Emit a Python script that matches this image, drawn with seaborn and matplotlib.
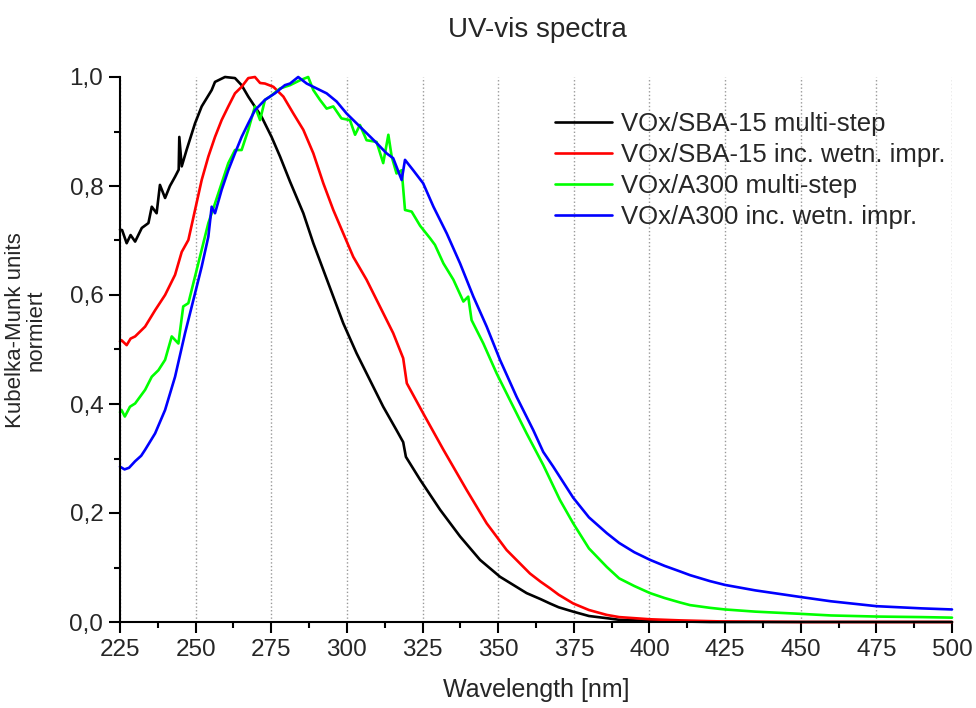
import numpy as np
import pandas as pd
import matplotlib
matplotlib.use("Agg")
import matplotlib.pyplot as plt
from matplotlib.ticker import MultipleLocator, FuncFormatter
import seaborn as sns

# ---------------- data ----------------
series_names = ["VOx/SBA-15 multi-step", "VOx/SBA-15 inc. wetn. impr.",
                "VOx/A300 multi-step", "VOx/A300 inc. wetn. impr."]
series_colors = ["#000000", "#FF0000", "#00FF00", "#0000FF"]

wl_black = [225, 225.7, 227.2, 228.5, 230, 232.2, 234.4, 235.5, 237.1, 238.2, 239.9, 241.5,
            243.2, 244.4, 244.6, 245.4, 247.0, 249.8, 252, 255.3, 256.4, 259.7, 263, 265.2,
            267.4, 271.8, 275.1, 277.9, 281.2, 285.6, 288.9, 292.2, 295.5, 298.8, 303.2,
            307.6, 312.0, 316.4, 317.8, 318.6, 319.5, 324.2, 330.8, 337.4, 344.0, 350.6,
            359.4, 364.0, 367.1, 370, 374.8, 380, 385.9, 390, 400, 420, 450, 500]
val_black = [0.72, 0.719, 0.695, 0.71, 0.698, 0.723, 0.732, 0.762, 0.750, 0.802, 0.778, 0.80,
             0.817, 0.83, 0.890, 0.836, 0.866, 0.915, 0.946, 0.976, 0.991, 1.0, 0.998, 0.985,
             0.964, 0.927, 0.890, 0.854, 0.808, 0.750, 0.695, 0.646, 0.597, 0.548, 0.493,
             0.444, 0.395, 0.352, 0.338, 0.330, 0.303, 0.261, 0.206, 0.157, 0.114, 0.083,
             0.053, 0.042, 0.034, 0.027, 0.019, 0.011, 0.007, 0.004, 0.002, 0.0, 0.0, 0.0]

wl_red = [225, 225.5, 227.2, 228.5, 230, 233.3, 236.6, 239.9, 243.2, 245.4, 247.6, 249.8,
          252, 254.2, 256.4, 258.6, 260.8, 263, 265.2, 267.4, 269.6, 271.3, 272.9, 275.7,
          279, 282.3, 285.6, 288.9, 292.2, 295.5, 298.8, 302.1, 306.5, 310.9, 315.3, 318.6,
          319.8, 325.2, 331.9, 339.6, 346.2, 352.8, 360.5, 364.0, 367.1, 370, 374.8, 380,
          385.9, 390, 400.2, 410, 424, 450, 500]
val_red = [0.515, 0.517, 0.508, 0.52, 0.524, 0.542, 0.572, 0.600, 0.637, 0.679, 0.701, 0.756,
           0.811, 0.854, 0.890, 0.921, 0.946, 0.970, 0.982, 0.998, 1.0, 0.989, 0.988, 0.982,
           0.964, 0.933, 0.903, 0.860, 0.805, 0.756, 0.713, 0.670, 0.628, 0.579, 0.530, 0.484,
           0.438, 0.383, 0.316, 0.242, 0.181, 0.132, 0.089, 0.074, 0.062, 0.050, 0.034, 0.022,
           0.013, 0.009, 0.005, 0.003, 0.001, 0.0, 0.0]

wl_green = [225, 225.5, 226.6, 228.3, 230, 233.3, 235.5, 237.7, 239.9, 242.1, 244.3, 245.9,
            247.6, 249.8, 252, 254.2, 256.4, 258.6, 260.8, 263, 265.2, 267.4, 269.6, 271.3,
            272.9, 274.6, 277.9, 281.2, 284.5, 287.2, 288.9, 291.1, 293.3, 295.5, 298.2, 301,
            302.7, 304.3, 306.5, 309.8, 312.0, 313.7, 314.8, 316.4, 318.1, 319.2, 321.4, 324.2,
            327.5, 329.1, 331.9, 335.2, 338.5, 340.1, 341.2, 345.1, 349.5, 353.9, 359.4, 364.9,
            370.4, 374.8, 380, 385.9, 390, 395, 400.2, 405, 410, 413.4, 420, 425, 435, 449.8,
            460, 475.1, 490, 500]
val_green = [0.385, 0.389, 0.377, 0.395, 0.401, 0.426, 0.450, 0.462, 0.481, 0.524, 0.511, 0.579,
             0.585, 0.634, 0.683, 0.732, 0.768, 0.805, 0.842, 0.866, 0.866, 0.903, 0.946, 0.921,
             0.958, 0.964, 0.979, 0.985, 0.994, 1.0, 0.976, 0.958, 0.942, 0.946, 0.924, 0.921,
             0.894, 0.912, 0.884, 0.881, 0.842, 0.894, 0.854, 0.823, 0.829, 0.756, 0.753, 0.727,
             0.704, 0.692, 0.658, 0.628, 0.588, 0.597, 0.554, 0.511, 0.456, 0.407, 0.346, 0.288,
             0.224, 0.181, 0.135, 0.101, 0.080, 0.066, 0.053, 0.044, 0.036, 0.031, 0.026, 0.023,
             0.019, 0.015, 0.012, 0.010, 0.009, 0.008]

wl_blue = [225, 226.5, 228, 230, 232, 233.3, 236.6, 239.9, 243.2, 246.5, 249.8, 252, 254.2,
           255.3, 256.4, 258.6, 260.8, 263, 265.2, 267.4, 269.6, 272.9, 276.2, 279.5, 281.2,
           283.9, 286.7, 290, 293.3, 296.6, 299.9, 303.2, 306.5, 309.8, 313.1, 315.3, 318.1,
           319.2, 321.9, 325.2, 328.6, 333.0, 337.4, 341.8, 346.2, 350.6, 356.1, 361.6, 364.9,
           368.2, 374.8, 380, 385.9, 390, 395, 400.2, 405, 410, 413.4, 420, 425, 435, 449.8,
           460, 475.1, 490, 500]
val_blue = [0.285, 0.280, 0.283, 0.295, 0.305, 0.316, 0.346, 0.389, 0.450, 0.530, 0.603, 0.652,
            0.707, 0.762, 0.750, 0.793, 0.829, 0.860, 0.890, 0.915, 0.939, 0.958, 0.970, 0.985,
            0.988, 1.0, 0.988, 0.979, 0.970, 0.955, 0.933, 0.915, 0.897, 0.879, 0.860, 0.851,
            0.811, 0.848, 0.829, 0.805, 0.762, 0.713, 0.658, 0.597, 0.542, 0.481, 0.413, 0.352,
            0.312, 0.285, 0.228, 0.192, 0.163, 0.145, 0.128, 0.114, 0.103, 0.093, 0.086, 0.075,
            0.068, 0.058, 0.046, 0.038, 0.029, 0.025, 0.023]

x_ticks = [225, 250, 275, 300, 325, 350, 375, 400, 425, 450, 475, 500]
y_ticks = [0.0, 0.2, 0.4, 0.6, 0.8, 1.0]

# ---------------- build long table ----------------
frames = []
for name, wl, val in zip(series_names,
                         [wl_black, wl_red, wl_green, wl_blue],
                         [val_black, val_red, val_green, val_blue]):
    frames.append(pd.DataFrame({"wl": wl, "val": val, "series": name}))
df = pd.concat(frames, ignore_index=True)

# ---------------- style ----------------
sns.set_style("ticks")
plt.rcParams["font.family"] = ["Liberation Sans", "DejaVu Sans"]

fig = plt.figure(figsize=(9.76, 7.08), dpi=100)
ax = fig.add_axes([120 / 976, 1 - 622 / 708, 832 / 976, 545 / 708])

sns.lineplot(data=df, x="wl", y="val", hue="series", hue_order=series_names,
             palette=series_colors, estimator=None, sort=False, linewidth=1.9,
             ax=ax, legend=True)
for ln in ax.get_lines():
    ln.set_clip_on(False)

ax.set_xlim(225, 500)
ax.set_ylim(0, 1.0)
ax.set_xticks(x_ticks)
ax.set_yticks(y_ticks)
ax.xaxis.set_minor_locator(MultipleLocator(12.5))
ax.yaxis.set_minor_locator(MultipleLocator(0.1))
ax.yaxis.set_major_formatter(FuncFormatter(lambda v, p: f"{v:.1f}".replace(".", ",")))

for s in ["top", "right"]:
    ax.spines[s].set_visible(False)
for s in ["left", "bottom"]:
    ax.spines[s].set_linewidth(1.5)
    ax.spines[s].set_color("black")

ax.tick_params(axis="both", which="major", direction="out", length=8, width=1.5,
               labelsize=17.5, color="black", pad=4)
ax.tick_params(axis="both", which="minor", direction="out", length=4.5, width=1.5,
               color="black")

ax.xaxis.grid(True, which="major", linestyle=":", color="#999999", linewidth=1.0)
ax.yaxis.grid(False)
ax.set_axisbelow(True)

ax.set_xlabel("Wavelength [nm]", fontsize=18)
ax.xaxis.set_label_coords(0.5, -(690 - 622) / 545)
ax.xaxis.label.set_va("center")
ax.set_ylabel("")

fig.text(537 / 976, 1 - 30 / 708, "UV-vis spectra", ha="center", va="center", fontsize=20)
fig.text(26 / 976, 1 - 330 / 708, "Kubelka-Munk units\nnormiert", ha="center", va="center",
         rotation=90, fontsize=16, linespacing=0.95, multialignment="center")

leg = ax.legend(loc="upper left", bbox_to_anchor=(555 / 976, 1 - 112 / 708),
                bbox_transform=fig.transFigure, frameon=False, fontsize=18.5,
                handlelength=2.2, handletextpad=0.35, labelspacing=0.27,
                borderpad=0, borderaxespad=0)
for h in leg.get_lines():
    h.set_linewidth(1.9)

fig.savefig("out.png", dpi=100)
